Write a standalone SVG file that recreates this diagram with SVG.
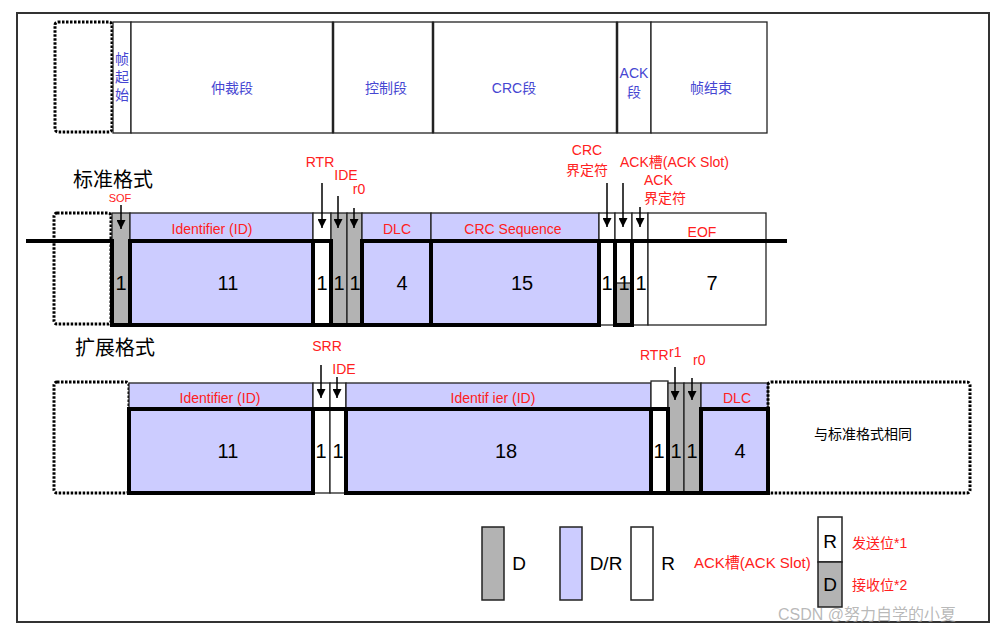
<svg xmlns="http://www.w3.org/2000/svg" width="1004" height="634" viewBox="0 0 1004 634">
<style>
text{font-family:"Liberation Sans","Noto Sans CJK SC",sans-serif}
.blue{fill:#4646d2;font-size:14px;text-anchor:middle}
.red{fill:#ff2020;font-size:14px}
.hdr{fill:#ff2020;font-size:14px;text-anchor:middle}
.num{fill:#000;font-size:20px;text-anchor:middle}
.ttl{fill:#000;font-size:20px}
.thin{stroke:#222;stroke-width:1.3}
.lav{fill:#ccccff}
.gry{fill:#b3b3b3}
.wht{fill:#fff}
.thick{fill:none;stroke:#000;stroke-width:4;stroke-linecap:square;stroke-linejoin:miter}
.dot{fill:none;stroke:#000;stroke-width:3;stroke-dasharray:2.5 1.5}
.arr{stroke:#000;stroke-width:1.5;marker-end:url(#ah)}
</style>
<defs>
<marker id="ah" viewBox="0 0 10 10" refX="10" refY="5" markerUnits="userSpaceOnUse" markerWidth="10" markerHeight="9" orient="auto">
<path d="M0,0 L10,5 L0,10 z" fill="#000"/>
</marker>
</defs>
<rect width="1004" height="634" fill="#fff"/>
<rect id="frame" x="17" y="13" width="972" height="609" fill="none" stroke="#333" stroke-width="2"/>

<!-- Top row: frame segments -->
<g id="top-row">
<rect x="55" y="22" width="57" height="110" rx="3" class="dot" stroke-width="4"/>
<g id="seg-sof"><rect x="113" y="22" width="18" height="111" class="wht thin"/>
<text class="blue" x="122" y="64">帧</text><text class="blue" x="122" y="82">起</text><text class="blue" x="122" y="100">始</text></g>
<g id="seg-arb"><rect x="131" y="22" width="202" height="111" class="wht thin"/><text class="blue" x="232" y="93">仲裁段</text></g>
<g id="seg-ctrl"><rect x="333" y="22" width="100" height="111" class="wht thin"/><text class="blue" x="386" y="93">控制段</text></g>
<g id="seg-crc"><rect x="433" y="22" width="184" height="111" class="wht thin"/><text class="blue" x="514" y="93">CRC段</text></g>
<g id="seg-ack"><rect x="617" y="22" width="34" height="111" class="wht thin"/><text class="blue" x="634" y="78">ACK</text><text class="blue" x="634" y="97">段</text></g>
<g id="seg-eof"><rect x="651" y="22" width="116" height="111" class="wht thin"/><text class="blue" x="711" y="93">帧结束</text></g>
<path d="M333,22 V133 M433,22 V133 M617,22 V133" stroke="#222" stroke-width="2.5"/>
</g>

<!-- Standard format -->
<text class="ttl" x="73" y="187">标准格式</text>
<g id="std-frame">
<rect x="54" y="213" width="57" height="111" rx="3" class="dot"/>
<g id="std-sof"><rect x="112" y="213" width="18" height="112" class="gry thin"/><text class="num" x="121" y="290">1</text></g>
<g id="std-id"><rect x="130" y="213" width="183" height="28" class="lav thin"/><rect x="130" y="241" width="183" height="84" class="lav"/>
<text class="hdr" x="212" y="234">Identifier (ID)</text><text class="num" x="228" y="290">11</text></g>
<g id="std-rtr"><rect x="313" y="213" width="18" height="112" class="wht thin"/><text class="num" x="322" y="290">1</text></g>
<g id="std-ide"><rect x="331" y="213" width="16" height="112" class="gry thin"/><text class="num" x="339" y="290">1</text></g>
<g id="std-r0"><rect x="347" y="213" width="15" height="112" class="gry thin"/><text class="num" x="355" y="290">1</text></g>
<g id="std-dlc"><rect x="362" y="213" width="69" height="28" class="lav thin"/><rect x="362" y="241" width="69" height="84" class="lav"/>
<text class="hdr" x="397" y="234">DLC</text><text class="num" x="402" y="290">4</text></g>
<g id="std-crc"><rect x="431" y="213" width="168" height="28" class="lav thin"/><rect x="431" y="241" width="168" height="84" class="lav"/>
<text class="hdr" x="513" y="234">CRC Sequence</text><text class="num" x="522" y="290">15</text></g>
<g id="std-crcdel"><rect x="599" y="213" width="16" height="112" class="wht thin"/><text class="num" x="607" y="290">1</text></g>
<g id="std-ackslot"><rect x="615" y="213" width="17" height="112" class="wht thin"/><rect x="615" y="283" width="17" height="42" class="gry thin"/><text class="num" x="624" y="290">1</text></g>
<g id="std-ackdel"><rect x="632" y="213" width="16" height="112" class="wht thin"/><text class="num" x="641" y="290">1</text></g>
<g id="std-eof"><rect x="648" y="213" width="118" height="28" class="wht thin"/><rect x="648" y="241" width="118" height="84" class="wht thin"/>
<text class="hdr" x="702" y="237">EOF</text><text class="num" x="712" y="290">7</text></g>
<path class="thick" d="M28,241 H112 V325 H599 V241 H785"/>
<path class="thick" d="M130,325 V241 H331 V325"/>
<path class="thick" d="M313,241 V325"/>
<path class="thick" d="M362,325 V241 H599 M431,241 V325"/>
<path class="thick" d="M615,241 V325 H632 V241"/>
</g>

<!-- Extended format -->
<text class="ttl" x="75" y="355">扩展格式</text>
<g id="ext-frame">
<rect x="54" y="382" width="75" height="111" rx="3" class="dot"/>
<g id="ext-id1"><rect x="129" y="383" width="184" height="26" class="lav thin"/><rect x="129" y="409" width="184" height="84" class="lav"/>
<text class="hdr" x="220" y="403">Identifier (ID)</text><text class="num" x="228" y="458">11</text></g>
<g id="ext-srr"><rect x="313" y="383" width="17" height="110" class="wht thin"/><text class="num" x="321" y="458">1</text></g>
<g id="ext-ide"><rect x="330" y="383" width="16" height="110" class="wht thin"/><text class="num" x="338" y="458">1</text></g>
<g id="ext-id2"><rect x="346" y="383" width="305" height="26" class="lav thin"/><rect x="346" y="409" width="305" height="84" class="lav"/>
<text class="hdr" x="493" y="403">Identif ier (ID)</text><text class="num" x="506" y="458">18</text></g>
<g id="ext-rtr"><rect x="651" y="381" width="17" height="112" class="wht thin"/><text class="num" x="659" y="458">1</text></g>
<g id="ext-r1"><rect x="668" y="383" width="16" height="110" class="gry thin"/><text class="num" x="676" y="458">1</text></g>
<g id="ext-r0"><rect x="684" y="383" width="17" height="110" class="gry thin"/><text class="num" x="692" y="458">1</text></g>
<g id="ext-dlc"><rect x="701" y="383" width="67" height="26" class="lav thin"/><rect x="701" y="409" width="67" height="84" class="lav"/>
<text class="hdr" x="737" y="403">DLC</text><text class="num" x="740" y="458">4</text></g>
<g id="ext-rest"><rect x="768" y="382" width="202" height="111" rx="3" class="dot"/>
<text x="863" y="439" font-size="14" text-anchor="middle" fill="#000">与标准格式相同</text></g>
<path class="thick" d="M129,493 V409 H668 V493"/>
<path class="thick" d="M129,493 H313 V409"/>
<path class="thick" d="M346,409 V493 H768 V409 H701 V493"/>
<path class="thick" d="M651,409 V493"/>
</g>

<!-- Connectors: pointer arrows -->
<g id="connectors">
<line class="arr" x1="121" y1="205" x2="121" y2="229"/>
<line class="arr" x1="322" y1="183" x2="322" y2="228"/>
<line class="arr" x1="338" y1="196" x2="338" y2="228"/>
<line class="arr" x1="354" y1="208" x2="354" y2="228"/>
<line class="arr" x1="607" y1="183" x2="607" y2="227"/>
<line class="arr" x1="623" y1="183" x2="623" y2="227"/>
<line class="arr" x1="640" y1="207" x2="640" y2="227"/>
<line class="arr" x1="321" y1="365" x2="321" y2="398"/>
<line class="arr" x1="337" y1="377" x2="337" y2="398"/>
<line class="arr" x1="675" y1="367" x2="675" y2="400"/>
<line class="arr" x1="692" y1="378" x2="692" y2="400"/>
</g>

<g id="labels">
<text class="red" x="120" y="202" text-anchor="middle" style="font-size:11px">SOF</text>
<text class="red" x="320" y="167" text-anchor="middle">RTR</text>
<text class="red" x="346" y="180" text-anchor="middle">IDE</text>
<text class="red" x="359" y="194" text-anchor="middle">r0</text>
<text class="red" x="587" y="155" text-anchor="middle">CRC</text>
<text class="red" x="587" y="175" text-anchor="middle">界定符</text>
<text class="red" x="620" y="167">ACK槽(ACK Slot)</text>
<text class="red" x="644" y="185">ACK</text>
<text class="red" x="644" y="203">界定符</text>
<text class="red" x="327" y="351" text-anchor="middle">SRR</text>
<text class="red" x="344" y="374" text-anchor="middle">IDE</text>
<text class="red" x="640" y="360">RTR</text>
<text class="red" x="669" y="357">r1</text>
<text class="red" x="693" y="365">r0</text>
</g>

<!-- Legend -->
<g id="legend">
<g id="leg-d"><rect x="482" y="527" width="22" height="73" class="gry" stroke="#222" stroke-width="1.5"/><text x="519" y="570" font-size="19" text-anchor="middle">D</text></g>
<g id="leg-dr"><rect x="560" y="527" width="22" height="73" class="lav" stroke="#222" stroke-width="1.5"/><text x="606" y="570" font-size="19" text-anchor="middle">D/R</text></g>
<g id="leg-r"><rect x="631" y="527" width="22" height="73" class="wht" stroke="#222" stroke-width="1.5"/><text x="668" y="570" font-size="19" text-anchor="middle">R</text></g>
<g id="leg-ack">
<text class="red" x="694" y="568" style="font-size:15px">ACK槽(ACK Slot)</text>
<rect x="818" y="517" width="24" height="45" class="wht" stroke="#222" stroke-width="1.5"/>
<rect x="818" y="562" width="24" height="45" class="gry" stroke="#222" stroke-width="1.5"/>
<text x="830" y="548" font-size="19" text-anchor="middle">R</text>
<text x="830" y="591" font-size="19" text-anchor="middle">D</text>
<text class="red" x="852" y="548">发送位*1</text>
<text class="red" x="852" y="590">接收位*2</text>
</g>
</g>
<text x="778" y="620" font-size="16" fill="#9a9a9a" fill-opacity="0.7">CSDN @努力自学的小夏</text>
</svg>
